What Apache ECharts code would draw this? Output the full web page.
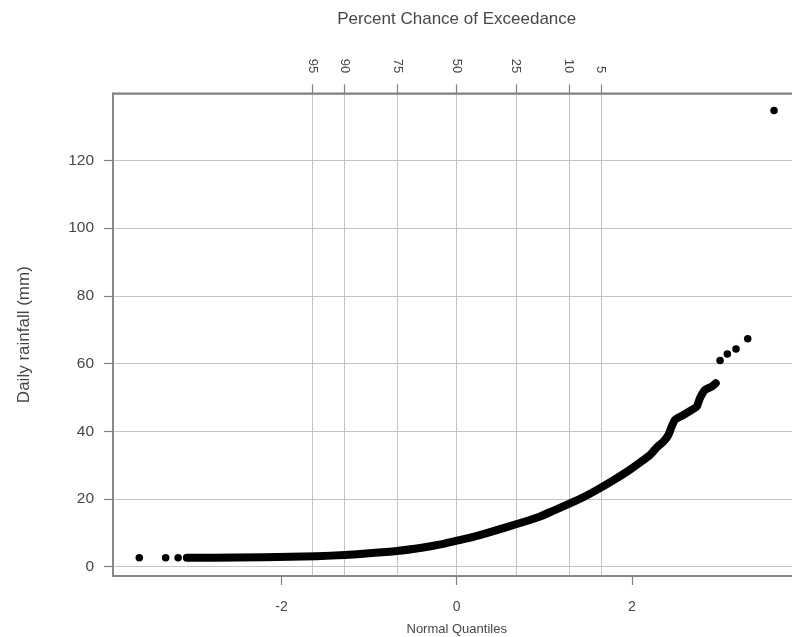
<!DOCTYPE html>
<html><head><meta charset="utf-8">
<script src="https://cdn.jsdelivr.net/npm/echarts@6/dist/echarts.min.js"></script>
<style>html,body{margin:0;padding:0;background:#fff}#c{width:792px;height:637px}</style>
</head><body><div id="c"></div>
<script>
// Tick labels
const yTicks = [0, 20, 40, 60, 80, 100, 120];
const xTicks = [-2, 0, 2];
const pctLabels = ['95', '90', '75', '50', '25', '10', '5'];
const pctQuantiles = [-1.645, -1.2816, -0.6745, 0, 0.6745, 1.2816, 1.645];

// Dense body of the Q-Q plot (normal quantile, daily rainfall mm)
const curveX = [-3.08, -2.50, -1.90, -1.60, -1.275, -1.00, -0.685, -0.40, -0.20, 0.00,
  0.19, 0.342, 0.571, 0.80, 0.951, 1.10, 1.293, 1.445, 1.636, 1.80, 1.94, 2.092, 2.207,
  2.283, 2.358, 2.416, 2.454, 2.492, 2.587, 2.683, 2.74, 2.777, 2.834, 2.911, 2.957];
const curveY = [2.66, 2.7, 2.9, 3.1, 3.46, 3.95, 4.64, 5.6, 6.5, 7.69,
  8.8, 9.9, 11.7, 13.5, 14.8, 16.5, 18.7, 20.5, 23.2, 25.7, 28.0, 30.8, 33.0,
  35.2, 36.9, 38.9, 41.4, 43.4, 44.8, 46.3, 47.3, 49.8, 52.2, 53.2, 54.2];

// Isolated points in the tails
const tailX = [-3.623, -3.322, -3.18, 3.006, 3.089, 3.188, 3.322, 3.622];
const tailY = [2.66, 2.66, 2.66, 60.9, 62.8, 64.3, 67.3, 134.7];

const FONT = "'Liberation Sans', Arial, sans-serif";
const TXT = '#474747';
const GRIDC = '#c4c4c4';
const BOX = '#808080';

const chart = echarts.init(document.getElementById('c'), null, {renderer: 'canvas'});
chart.setOption({
  animation: false,
  backgroundColor: '#ffffff',
  grid: {left: 113, right: -8.4, top: 93.3, bottom: 61, show: true,
    outerBoundsMode: 'none', containLabel: false,
    borderColor: BOX, borderWidth: 1.5, backgroundColor: 'transparent'},
  xAxis: [
    {
      type: 'value', position: 'bottom', min: -3.923, max: 3.923,
      name: 'Normal Quantiles', nameLocation: 'middle', nameGap: 47,
      nameTextStyle: {fontFamily: FONT, fontSize: 13, color: TXT},
      axisLine: {show: true, onZero: false, lineStyle: {color: BOX, width: 1.5}},
      axisTick: {show: true, length: 9, customValues: xTicks, lineStyle: {color: BOX, width: 1.2}},
      axisLabel: {show: true, customValues: xTicks, margin: 24, fontFamily: FONT, fontSize: 14, color: TXT},
      splitLine: {show: false}
    },
    {
      type: 'value', position: 'top', min: -3.923, max: 3.923,
      name: 'Percent Chance of Exceedance', nameLocation: 'middle', nameGap: 65,
      nameTextStyle: {fontFamily: FONT, fontSize: 17, color: TXT},
      axisLine: {show: true, onZero: false, lineStyle: {color: BOX, width: 1.5}},
      axisTick: {show: true, length: 9, customValues: pctQuantiles, lineStyle: {color: BOX, width: 1.2}},
      axisLabel: {show: true, customValues: pctQuantiles, rotate: 90, margin: 20,
        fontFamily: FONT, fontSize: 13, color: TXT,
        formatter: function (v) {
          for (let i = 0; i < pctQuantiles.length; i++) {
            if (Math.abs(pctQuantiles[i] - v) < 1e-6) return pctLabels[i];
          }
          return '';
        }},
      splitLine: {show: true, lineStyle: {color: GRIDC, width: 1}}
    }
  ],
  yAxis: {
    type: 'value', min: -2.75, max: 139.8,
    name: 'Daily rainfall (mm)', nameLocation: 'middle', nameGap: 80,
    nameTextStyle: {fontFamily: FONT, fontSize: 17, color: TXT},
    axisLine: {show: true, onZero: false, lineStyle: {color: BOX, width: 1.5}},
    axisTick: {show: true, length: 9, customValues: yTicks, lineStyle: {color: BOX, width: 1.2}},
    axisLabel: {show: true, customValues: yTicks, margin: 19, fontFamily: FONT, fontSize: 15.5, color: TXT},
    splitLine: {show: true, lineStyle: {color: GRIDC, width: 1}}
  },
  series: [
    {
      type: 'line', xAxisIndex: 0, yAxisIndex: 0,
      data: curveX.map((x, i) => [x, curveY[i]]),
      showSymbol: false, symbol: 'none', smooth: 0.2,
      lineStyle: {color: '#000', width: 8, cap: 'round', join: 'round', opacity: 1},
      silent: true, z: 5
    },
    {
      type: 'scatter', xAxisIndex: 0, yAxisIndex: 0,
      data: tailX.map((x, i) => [x, tailY[i]]),
      symbol: 'circle', symbolSize: 7.5,
      itemStyle: {color: '#000', opacity: 1}, silent: true, z: 6
    }
  ]
});
</script>
</body></html>
